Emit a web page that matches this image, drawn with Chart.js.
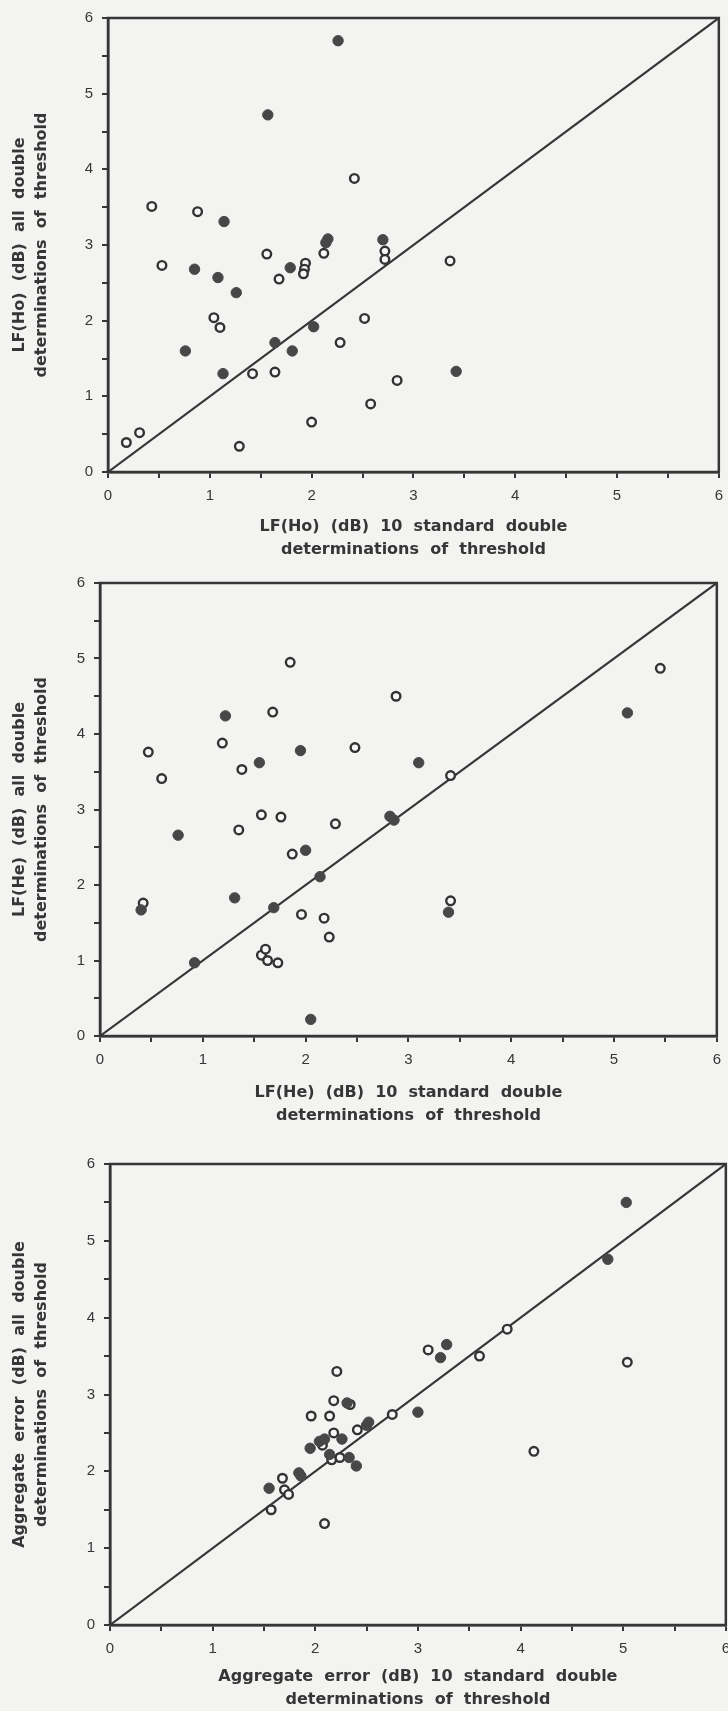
<!DOCTYPE html>
<html>
<head>
<meta charset="utf-8">
<script src="https://cdn.jsdelivr.net/npm/chart.js@4.4.1/dist/chart.umd.min.js"></script>
<style>
  body { margin: 0; background: #f3f3f1; }
  #page { position: relative; width: 728px; height: 1711px; overflow: hidden; }
  canvas { position: absolute; left: 0; }
</style>
</head>
<body>
<div id="page">
  <canvas id="hoChart" width="732" height="565" style="top:0px"></canvas>
  <canvas id="heChart" width="730" height="566" style="top:565px"></canvas>
  <canvas id="aggChart" width="739" height="580" style="top:1131px"></canvas>
</div>
<script>
// LF(Ho) panel
var hoFilledX = [0.76, 0.85, 1.08, 1.14, 1.13, 1.26, 1.57, 1.64, 1.79, 1.81, 2.02, 2.14, 2.16, 2.26, 2.70, 3.42];
var hoFilledY = [1.60, 2.68, 2.57, 3.31, 1.30, 2.37, 4.72, 1.71, 2.70, 1.60, 1.92, 3.03, 3.08, 5.70, 3.07, 1.33];
var hoOpenX = [0.18, 0.31, 0.43, 0.53, 0.88, 1.04, 1.10, 1.29, 1.42, 1.56, 1.64, 1.68, 1.94, 1.93, 1.92, 2.00, 2.12, 2.28, 2.42, 2.52, 2.58, 2.72, 2.72, 2.84, 3.36];
var hoOpenY = [0.39, 0.52, 3.51, 2.73, 3.44, 2.04, 1.91, 0.34, 1.30, 2.88, 1.32, 2.55, 2.76, 2.68, 2.62, 0.66, 2.89, 1.71, 3.88, 2.03, 0.90, 2.92, 2.81, 1.21, 2.79];

// LF(He) panel
var heFilledX = [0.40, 0.76, 0.92, 1.22, 1.31, 1.55, 1.69, 1.95, 2.00, 2.05, 2.14, 2.82, 2.86, 3.10, 3.39, 5.13];
var heFilledY = [1.67, 2.66, 0.97, 4.24, 1.83, 3.62, 1.70, 3.78, 2.46, 0.22, 2.11, 2.91, 2.86, 3.62, 1.64, 4.28];
var heOpenX = [0.42, 0.47, 0.60, 1.19, 1.35, 1.38, 1.57, 1.57, 1.61, 1.63, 1.68, 1.73, 1.76, 1.85, 1.87, 1.96, 2.18, 2.23, 2.29, 2.48, 2.88, 3.41, 3.41, 5.45];
var heOpenY = [1.76, 3.76, 3.41, 3.88, 2.73, 3.53, 2.93, 1.07, 1.15, 1.00, 4.29, 0.97, 2.90, 4.95, 2.41, 1.61, 1.56, 1.31, 2.81, 3.82, 4.50, 3.45, 1.79, 4.87];

// Aggregate error panel
var aggFilledX = [1.55, 1.84, 1.86, 1.95, 2.04, 2.09, 2.14, 2.26, 2.31, 2.33, 2.40, 2.50, 2.52, 3.00, 3.22, 3.28, 4.85, 5.03];
var aggFilledY = [1.78, 1.98, 1.94, 2.30, 2.39, 2.42, 2.22, 2.42, 2.89, 2.18, 2.07, 2.60, 2.64, 2.77, 3.48, 3.65, 4.76, 5.50];
var aggOpenX = [1.57, 1.68, 1.70, 1.74, 1.96, 2.07, 2.09, 2.14, 2.16, 2.18, 2.18, 2.21, 2.24, 2.34, 2.41, 2.75, 3.10, 3.60, 3.87, 4.13, 5.04];
var aggOpenY = [1.50, 1.91, 1.76, 1.70, 2.72, 2.34, 1.32, 2.72, 2.15, 2.92, 2.50, 3.30, 2.18, 2.87, 2.54, 2.74, 3.58, 3.50, 3.85, 2.26, 3.42];

// line of equality and axis range
var diagX = [0, 6];
var diagY = [0, 6];
var axisMin = 0;
var axisMax = 6;

var ink = '#363636';
var titleFamily = '"DejaVu Sans", "Liberation Sans", Arial, sans-serif';
var tickFamily = '"Liberation Sans Narrow", "Liberation Sans", Arial, sans-serif';

function toPoints(xs, ys) {
    return xs.map(function (x, i) { return { x: x, y: ys[i] }; });
}

// draws the top and right edges of the box
var framePlugin = {
    id: 'frame',
    beforeDatasetsDraw: function (chart) {
        var a = chart.chartArea;
        var ctx = chart.ctx;
        ctx.save();
        ctx.strokeStyle = ink;
        ctx.lineWidth = 2.5;
        ctx.strokeRect(a.left, a.top, a.right - a.left, a.bottom - a.top);
        ctx.restore();
    }
};

function axisOptions(title, fixSize, titlePad) {
    return {
        type: 'linear',
        min: axisMin,
        max: axisMax,
        grid: { drawOnChartArea: false, drawTicks: true, tickLength: 6, color: ink, lineWidth: 2 },
        border: { display: true, color: ink, width: 2.5 },
        ticks: {
            stepSize: 0.5,
            autoSkip: false,
            maxRotation: 0,
            padding: 9,
            color: ink,
            font: { family: tickFamily, size: 15 },
            callback: function (v) { return Number.isInteger(v) ? String(v) : ''; }
        },
        title: {
            display: true,
            text: title,
            color: ink,
            padding: titlePad,
            font: { family: titleFamily, size: 16, weight: 'bold', lineHeight: 1.42 }
        },
        afterFit: fixSize
    };
}

function makePlot(id, filledX, filledY, openX, openY, xTitle, yTitle, geo) {
    var ctx = document.getElementById(id).getContext('2d');
    return new Chart(ctx, {
        type: 'scatter',
        data: {
            datasets: [{
                label: 'filled',
                data: toPoints(filledX, filledY),
                pointRadius: 5.2,
                backgroundColor: '#474747',
                borderColor: '#474747',
                borderWidth: 1
            }, {
                label: 'open',
                data: toPoints(openX, openY),
                pointRadius: 4.3,
                backgroundColor: '#f7f7f5',
                borderColor: '#333333',
                borderWidth: 2.4
            }, {
                label: 'equality',
                data: toPoints(diagX, diagY),
                showLine: true,
                pointRadius: 0,
                borderColor: ink,
                borderWidth: 2.2
            }]
        },
        options: {
            responsive: false,
            animation: false,
            layout: { padding: { top: geo.top, right: 0, left: 0, bottom: 0 } },
            plugins: { legend: { display: false }, tooltip: { enabled: false } },
            scales: {
                x: axisOptions(xTitle, function (s) { s.height = geo.xAxisH; }, { top: 0, bottom: geo.xTitlePad }),
                y: axisOptions(yTitle, function (s) { s.width = geo.yAxisW; }, { top: geo.yTitlePad, bottom: 0 })
            }
        },
        plugins: [framePlugin]
    });
}

makePlot('hoChart', hoFilledX, hoFilledY, hoOpenX, hoOpenY,
    ['LF(Ho)  (dB)  10  standard  double', 'determinations  of  threshold'],
    ['LF(Ho)  (dB)  all  double', 'determinations  of  threshold'],
    { top: 14, yAxisW: 108, xAxisH: 93, xTitlePad: 4, yTitlePad: 8 });

makePlot('heChart', heFilledX, heFilledY, heOpenX, heOpenY,
    ['LF(He)  (dB)  10  standard  double', 'determinations  of  threshold'],
    ['LF(He)  (dB)  all  double', 'determinations  of  threshold'],
    { top: 8, yAxisW: 100, xAxisH: 95, xTitlePad: 4, yTitlePad: 8 });

makePlot('aggChart', aggFilledX, aggFilledY, aggOpenX, aggOpenY,
    ['Aggregate  error  (dB)  10  standard  double', 'determinations  of  threshold'],
    ['Aggregate  error  (dB)  all  double', 'determinations  of  threshold'],
    { top: 33, yAxisW: 110, xAxisH: 86, xTitlePad: 0, yTitlePad: 8 });
</script>
</body>
</html>
